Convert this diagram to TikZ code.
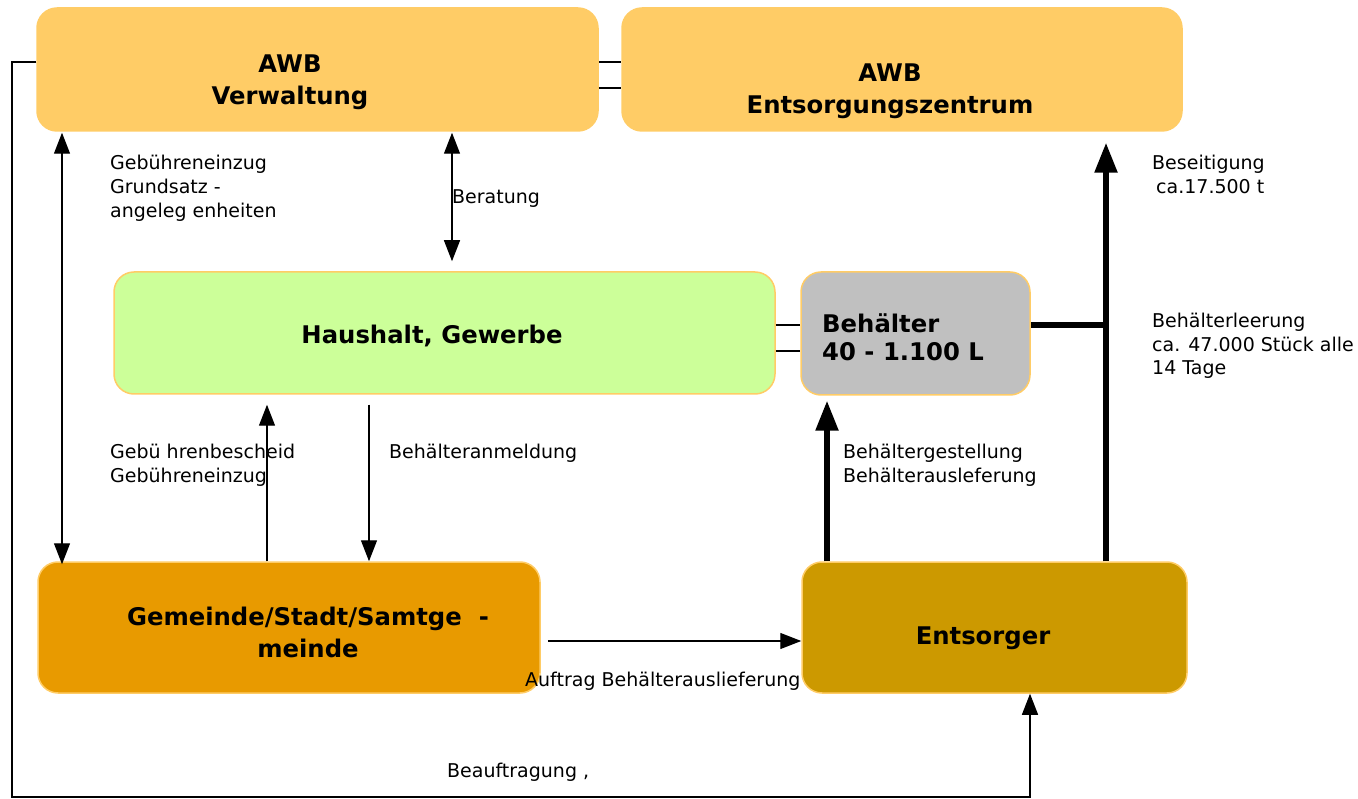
\documentclass[tikz,border=0pt]{standalone}
\usepackage{fontspec}
\setmainfont{DejaVu Sans}
\usetikzlibrary{arrows.meta}
\definecolor{awb}{HTML}{FFCC66}
\definecolor{hh}{HTML}{CCFF99}
\definecolor{beh}{HTML}{C0C0C0}
\definecolor{gem}{HTML}{E89A00}
\definecolor{ent}{HTML}{CC9900}
\begin{document}
\begin{tikzpicture}[x=1pt,y=-1pt,
  box/.style={draw=awb, line width=1.5pt, rounded corners=20pt, inner sep=0pt},
  ttl/.style={font=\fontsize{24.3}{32}\selectfont\bfseries, align=center, inner sep=0pt},
  lbl/.style={font=\fontsize{19}{24}\selectfont, align=left, inner sep=0pt, anchor=north west},
  thinline/.style={line width=1.3pt},
  thickline/.style={line width=5.5pt},
  ttip/.style={-{Triangle[length=21pt,width=16pt]}},
  dtip/.style={{Triangle[length=21pt,width=16pt]}-{Triangle[length=21pt,width=16pt]}},
  btip/.style={-{Triangle[length=30pt,width=22pt]}}
]
\useasboundingbox (0,0) rectangle (1358,799);

% boxes
\node[box, fill=awb, minimum width=561pt, minimum height=123pt] (verw) at (317.5,69.5) {};
\node[box, fill=awb, minimum width=560pt, minimum height=123pt] (awbe) at (902,69.5) {};
\node[box, fill=hh, minimum width=661pt, minimum height=122pt] (haus) at (444.5,333) {};
\node[box, fill=beh, minimum width=229pt, minimum height=123pt] (beh) at (915.5,333.5) {};
\node[box, fill=gem, minimum width=502pt, minimum height=131pt] (gem) at (289,627.5) {};
\node[box, fill=ent, minimum width=385pt, minimum height=131pt] (ents) at (994.5,627.5) {};

% titles
\node[ttl] (tverw) at (290,82.5) {AWB\\Verwaltung};
\node[ttl] (tawbe) at (890,91) {AWB\\Entsorgungszentrum};
\node[ttl] (thaus) at (432,336) {Haushalt, Gewerbe};
\node[ttl, font=\fontsize{24.3}{28}\selectfont\bfseries, align=left, anchor=west] (tbeh) at (822,337) {Behälter\\40 - 1.100 L};
\node[ttl] (tgem) at (308,632) {Gemeinde/Stadt/Samtge\ \ -\\meinde};
\node[ttl] (tents) at (983,638) {Entsorger};

% labels
\node[lbl] (l1) at (110,155) {Gebühreneinzug\\Grundsatz -\\angeleg enheiten};
\node[lbl] (l2) at (452,189) {Beratung};
\node[lbl] (l3) at (1152,155) {Beseitigung\\\hspace{4pt}ca.17.500 t};
\node[lbl, font=\fontsize{19}{23.5}\selectfont] (l4) at (1152,313) {Behälterleerung\\ca. 47.000 Stück alle\\14 Tage};
\node[lbl] (l5) at (110,444) {Gebü hrenbescheid\\Gebühreneinzug};
\node[lbl] (l6) at (389,444) {Behälteranmeldung};
\node[lbl] (l7) at (843,444) {Behältergestellung\\Behälterausleferung};
\node[lbl] (l8) at (525,672) {Auftrag Behälterauslieferung};
\node[lbl] (l9) at (447,763) {Beauftragung ,};

% helper coordinates
\coordinate (xa) at (62,0);
\coordinate (xb) at (452,0);
\coordinate (xc) at (267,0);
\coordinate (xd) at (369,0);
\coordinate (xe) at (827,0);
\coordinate (xf) at (1106,0);
\coordinate (xg) at (1030,0);
\coordinate (xl) at (12,0);
\coordinate (y62) at (0,62);
\coordinate (y88) at (0,88);
\coordinate (y325) at (0,325);
\coordinate (y351) at (0,351);
\coordinate (y641) at (0,641);
\coordinate (y797) at (0,797);

% connectors
\draw[thinline, dtip, shorten <=1pt, shorten >=-3pt] (verw.south -| xa) -- (gem.north -| xa);
\draw[thinline, dtip, shorten <=1pt, shorten >=10pt] (verw.south -| xb) -- (haus.north -| xb);
\draw[thinline, ttip, shorten >=10pt] (gem.north -| xc) -- (haus.south -| xc);
\draw[thinline, ttip, shorten <=10pt] (haus.south -| xd) -- (gem.north -| xd);
\draw[thickline, btip, shorten >=5pt] (ents.north -| xe) -- (beh.south -| xe);
\draw[thickline] (beh.east |- y325) -- (xf |- y325);
\draw[thickline, btip, shorten >=11pt] (ents.north -| xf) -- (awbe.south -| xf);
\draw[thinline, ttip, shorten <=7pt] (gem.east |- y641) -- (ents.west |- y641);
\draw[thinline, ttip] (verw.west |- y62) -- (xl |- y62) -- (xl |- y797) -- (xg |- y797) -- (ents.south -| xg);
\draw[thinline] (verw.east |- y62) -- (awbe.west |- y62);
\draw[thinline] (verw.east |- y88) -- (awbe.west |- y88);
\draw[thinline] (haus.east |- y325) -- (beh.west |- y325);
\draw[thinline] (haus.east |- y351) -- (beh.west |- y351);
\end{tikzpicture}
\end{document}
